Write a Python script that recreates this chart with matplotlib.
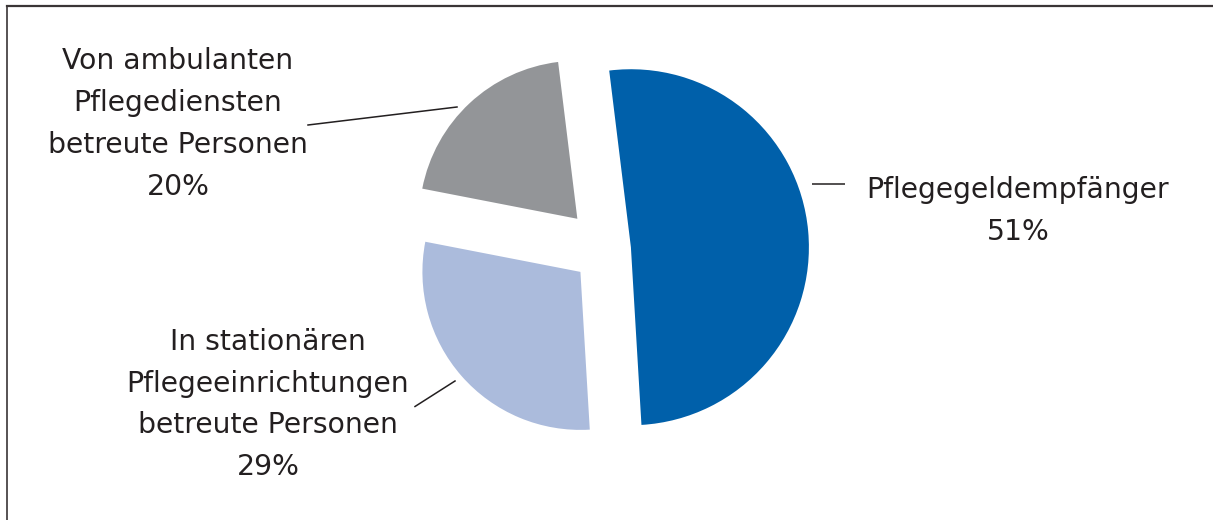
import matplotlib
matplotlib.use("Agg")
import matplotlib.pyplot as plt
from matplotlib.lines import Line2D

plt.rcParams["font.family"] = ["DejaVu Sans"]

# Shares of people in need of care (percent)
categories = [
    "Pflegegeldempfänger",
    "In stationären\nPflegeeinrichtungen\nbetreute Personen",
    "Von ambulanten\nPflegediensten\nbetreute Personen",
]
shares = [51, 29, 20]
colors = ["#0060AA", "#ABBBDC", "#939598"]

W, H = 1213, 520
fig = plt.figure(figsize=(W / 100, H / 100), dpi=100)
ax = fig.add_axes([0, 0, 1, 1])

center = (606, H - 249.5)
radius = 178
explode = [25, 34, 42]  # offsets in data units
wedges, _ = ax.pie(
    shares,
    colors=colors,
    startangle=97,
    counterclock=False,
    radius=radius,
    center=center,
    explode=explode,
    wedgeprops=dict(linewidth=0),
)
# the two smaller slices are drawn with a slightly smaller radius
for w in wedges[1:]:
    w.set_radius(158)

ax.set_xlim(0, W)
ax.set_ylim(0, H)
ax.set_aspect("auto")
ax.axis("off")

text_color = "#231F20"
fs = 20.3
ls = 1.63

labels = [f"{c}\n{v}%" for c, v in zip(categories, shares)]
ax.text(1018, H - 211, labels[0], ha="center", va="center",
        multialignment="center", fontsize=fs, color=text_color, linespacing=ls)
ax.text(268, H - 404.5, labels[1], ha="center", va="center",
        multialignment="center", fontsize=fs, color=text_color, linespacing=ls)
ax.text(178, H - 124, labels[2], ha="center", va="center",
        multialignment="center", fontsize=fs, color=text_color, linespacing=ls)

# leader lines
lw = 1.1
ax.plot([812, 845], [H - 184, H - 184], color=text_color, lw=lw, solid_capstyle="butt")
ax.plot([308, 457], [H - 125, H - 107], color=text_color, lw=lw)
ax.plot([415, 455], [H - 406.5, H - 381], color=text_color, lw=lw)

# frame along the top and left edges
fig.add_artist(Line2D([7 / W, 1], [1 - 6 / H, 1 - 6 / H], color="#3a3536", lw=1.6,
                      transform=fig.transFigure))
fig.add_artist(Line2D([7 / W, 7 / W], [0, 1 - 6 / H], color="#3a3536", lw=1.2,
                      transform=fig.transFigure))

fig.savefig("out.png", dpi=100, facecolor="white")
